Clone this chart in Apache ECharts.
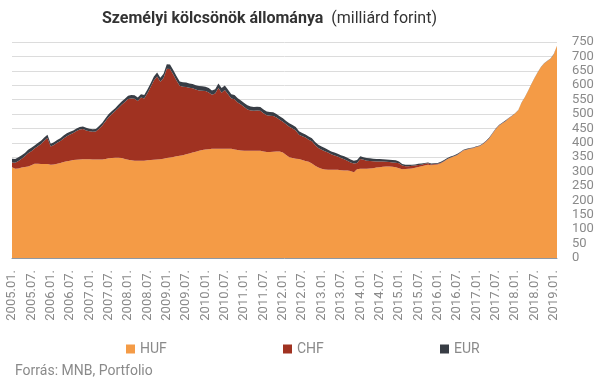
<!DOCTYPE html>
<html>
<head>
<meta charset="utf-8">
<script src="https://cdn.jsdelivr.net/npm/echarts@6/dist/echarts.min.js"></script>
<style>
  html, body { margin: 0; padding: 0; background: #fff; }
  #chart { width: 606px; height: 378px; }
</style>
</head>
<body>
<div id="chart"></div>
<script>
// havi adatok 2005.01 - 2019.02
const hufData = [
  315, 310, 311, 314, 316, 318, 322, 327, 327, 326, 326, 326,
  324, 325, 327, 330, 333, 336, 338, 340, 341, 342, 343, 343,
  343, 342, 342, 342, 342, 344, 346, 347, 348, 348, 347, 344,
  341, 339, 338, 338, 338, 338, 339, 340, 341, 342, 343, 345,
  347, 349, 351, 353, 355, 357, 360, 363, 366, 369, 372, 375,
  377, 378, 379, 379, 379, 379, 379, 379, 379, 377, 375, 373,
  372, 372, 372, 372, 372, 372, 370, 368, 368, 369, 370, 370,
  366, 358, 350, 347, 345, 344, 340, 337, 334, 328, 320, 314,
  310, 307, 306, 306, 306, 306, 305, 304, 304, 302, 298, 308,
  310, 310, 310, 311, 312, 314, 315, 317, 318, 318, 317, 315,
  312, 308, 309, 310, 311, 313, 316, 319, 321, 324, 322, 324,
  325, 329, 335, 343, 348, 352, 357, 365, 373, 376, 379, 381,
  385, 388, 395, 404, 415, 431, 447, 459, 467, 474, 484, 492,
  502, 513, 539, 557, 579, 602, 624, 644, 662, 675, 684, 692,
  707, 737
];
const chfData = [
  17, 21, 26, 31, 37, 46, 49, 53, 61, 70, 81, 91,
  63, 67, 73, 76, 82, 87, 91, 94, 100, 104, 105, 100,
  97, 96, 97, 107, 118, 131, 144, 153, 162, 173, 185, 198,
  211, 215, 215, 207, 219, 216, 233, 254, 275, 288, 269, 280,
  310, 307, 286, 263, 243, 238, 234, 228, 223, 216, 210, 206,
  203, 197, 188, 192, 211, 195, 204, 190, 175, 174, 165, 160,
  152, 144, 140, 139, 140, 139, 133, 128, 126, 124, 118, 110,
  107, 106, 106, 103, 98, 84, 83, 81, 77, 77, 72, 68,
  66, 64, 60, 54, 50, 46, 42, 39, 34, 30, 30, 22,
  34, 31, 28, 26, 24, 21, 20, 18, 16, 15, 15, 16,
  17, 13, 10, 9, 9, 8, 7, 5, 6, 5, 3, 2,
  2, 2, 2, 1, 1, 1, 1, 1, 1, 1, 1, 1,
  1, 1, 1, 1, 1, 1, 1, 1, 1, 1, 1, 1,
  0, 0, 0, 0, 0, 0, 0, 0, 0, 0, 0, 0,
  0, 0
];
const eurData = [
  13, 13, 13, 12, 12, 12, 12, 11, 11, 11, 11, 11,
  10, 10, 10, 10, 10, 10, 9, 9, 9, 9, 9, 9,
  9, 9, 9, 9, 10, 10, 10, 10, 10, 11, 11, 11,
  11, 12, 12, 12, 12, 12, 13, 13, 14, 14, 14, 15,
  16, 16, 16, 16, 15, 15, 15, 15, 15, 15, 15, 15,
  15, 15, 15, 15, 16, 16, 16, 15, 15, 15, 15, 14,
  14, 14, 14, 13, 13, 13, 13, 13, 13, 13, 12, 12,
  12, 12, 12, 12, 12, 12, 11, 11, 11, 11, 11, 11,
  11, 11, 10, 10, 10, 10, 10, 10, 10, 10, 10, 10,
  9, 9, 9, 9, 9, 9, 9, 8, 8, 8, 8, 8,
  6, 5, 5, 5, 4, 4, 4, 4, 3, 3, 3, 3,
  3, 3, 3, 3, 3, 3, 3, 2, 2, 2, 2, 2,
  2, 2, 2, 2, 2, 2, 2, 2, 2, 2, 1, 1,
  1, 1, 1, 1, 1, 1, 1, 1, 1, 1, 1, 1,
  1, 1
];
const seriesNames = ['HUF', 'CHF', 'EUR'];
const seriesColors = ['#f49b46', '#a03221', '#383d45'];

// honapok: 2005.01. ...
let months = [];
for (let i = 0; i < hufData.length; i++) {
  let y = 2005 + Math.floor(i / 12);
  let m = i % 12 + 1;
  months.push(y + '.' + (m < 10 ? '0' + m : m) + '.');
}

const chart = echarts.init(document.getElementById('chart'));
const font = 'Roboto, "Noto Sans", sans-serif';

let legends = [];
let legendLeft = [121, 278, 435];
for (let i = 0; i < seriesNames.length; i++) {
  legends.push({
    left: legendLeft[i],
    top: 337,
    data: [seriesNames[i]],
    icon: 'rect',
    itemWidth: 9,
    itemHeight: 9,
    itemGap: 0,
    textStyle: { fontFamily: font, fontSize: 14, color: '#8a8a8a' }
  });
}

let dataList = [hufData, chfData, eurData];
let series = [];
for (let i = 0; i < seriesNames.length; i++) {
  series.push({
    name: seriesNames[i],
    type: 'line',
    stack: 'total',
    data: dataList[i],
    symbol: 'none',
    smooth: false,
    lineStyle: { width: 0 },
    areaStyle: { color: seriesColors[i], opacity: 1 },
    itemStyle: { color: seriesColors[i] }
  });
}

chart.setOption({
  animation: false,
  title: [{
    text: '{b|Személyi kölcsönök állománya}{n|  (milliárd forint)}',
    left: 97,
    top: 6,
    textStyle: {
      fontWeight: 'normal',
      rich: {
        b: { fontFamily: font, fontSize: 16, fontWeight: 'bold', color: '#333' },
        n: { fontFamily: font, fontSize: 16, fontWeight: 'normal', color: '#333' }
      }
    }
  }, {
    text: 'Forrás: MNB, Portfolio',
    left: 10,
    top: 359,
    textStyle: { fontFamily: font, fontSize: 14, fontWeight: 'normal', color: '#8a8a8a' }
  }],
  legend: legends,
  grid: { left: 12, right: 49, top: 42, bottom: 120 },
  xAxis: {
    type: 'category',
    data: months,
    boundaryGap: false,
    axisLine: { lineStyle: { color: '#8e98a4', width: 1 } },
    axisTick: { show: false },
    axisLabel: {
      rotate: 90,
      interval: 5,
      margin: 12,
      fontFamily: font,
      fontSize: 13,
      color: '#8a8a8a'
    }
  },
  yAxis: {
    type: 'value',
    position: 'right',
    min: 0,
    max: 750,
    interval: 50,
    axisLine: { show: false },
    axisTick: { show: false },
    axisLabel: { margin: 15, align: 'left', fontFamily: font, fontSize: 13, color: '#8a8a8a' },
    splitLine: { lineStyle: { color: '#dcdcdc', width: 1 } }
  },
  series: series
});
</script>
</body>
</html>
